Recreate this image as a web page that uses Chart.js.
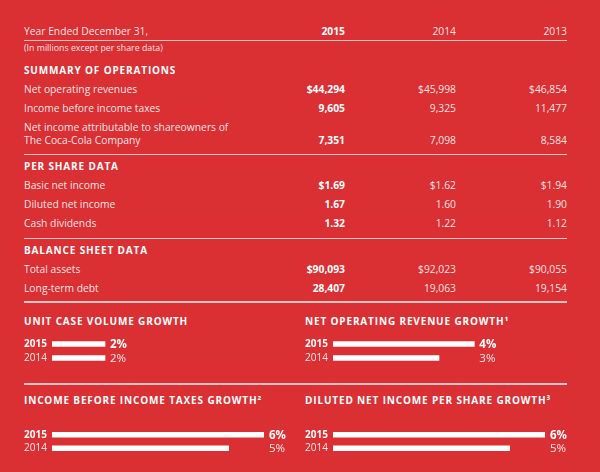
<!DOCTYPE html>
<html>
<head>
<meta charset="utf-8">
<script src="https://cdn.jsdelivr.net/npm/chart.js@4.4.1/dist/chart.umd.min.js"></script>
<style>
  html, body { margin: 0; padding: 0; }
  body {
    width: 600px; height: 472px; overflow: hidden; position: relative;
    background: #da2f33; color: rgba(255,255,255,0.9);
    font-family: "Open Sans", sans-serif;
  }
  .t { position: absolute; white-space: nowrap; height: 12px; line-height: 12px; font-size: 10.3px; }
  .b { font-weight: 700; color: #fff; }
  .h { font-weight: 700; color: #fff; font-size: 10px; letter-spacing: 0.85px; }
  .s { font-size: 8.8px; }
  .rule { position: absolute; left: 24px; width: 543px; height: 1.5px; background: rgba(255,255,255,0.72); }
  canvas { position: absolute; }
</style>
</head>
<body>
<canvas id="unitCase" width="270" height="40" style="left:24px;top:331px"></canvas>
<canvas id="netRev" width="270" height="40" style="left:305px;top:331px"></canvas>
<canvas id="incBefore" width="270" height="39" style="left:24px;top:422px"></canvas>
<canvas id="dilutedGr" width="270" height="39" style="left:305px;top:422px"></canvas>
<script>
// table data
const years = ['2015', '2014', '2013'];
const netRevenues = [44294, 45998, 46854];
const incomeBeforeTaxes = [9605, 9325, 11477];
const netIncome = [7351, 7098, 8584];
const basicEps = [1.69, 1.62, 1.94];
const dilutedEps = [1.67, 1.60, 1.90];
const cashDividends = [1.32, 1.22, 1.12];
const totalAssets = [90093, 92023, 90055];
const longTermDebt = [28407, 19063, 19154];

// growth charts
const growthYears = ['2015', '2014'];
const unitCaseGrowth = [2, 2];
const netRevenueGrowth = [4, 3];
const incomeBeforeTaxGrowth = [6, 5];
const dilutedEpsGrowth = [6, 5];

const FONT = '"Open Sans", sans-serif';
const colRight = [345, 456, 567];

function text(str, x, y, cls, alignRight) {
  const d = document.createElement('div');
  d.className = 't ' + (cls || '');
  d.textContent = str;
  d.style.top = (y - 6) + 'px';
  if (alignRight) d.style.right = (600 - x) + 'px';
  else d.style.left = x + 'px';
  document.body.appendChild(d);
}
function rule(y, h) {
  const d = document.createElement('div');
  d.className = 'rule';
  d.style.top = y + 'px';
  if (h) d.style.height = h + 'px';
  document.body.appendChild(d);
}
const money = v => '$' + v.toLocaleString('en-US');
const num = v => v.toLocaleString('en-US');
const usd2 = v => '$' + v.toFixed(2);
const dec2 = v => v.toFixed(2);

// header
text('Year Ended December 31,', 24, 31, '');
years.forEach((y, i) => text(y, colRight[i], 31, i === 0 ? 'b' : '', true));
rule(39.5);
text('(In millions except per share data)', 24, 48, 's');

const rows = [
  { head: 'SUMMARY OF OPERATIONS', y: 70 },
  { label: 'Net operating revenues', vals: netRevenues, fmt: money, y: 89 },
  { label: 'Income before income taxes', vals: incomeBeforeTaxes, fmt: num, y: 108 },
  { label: 'Net income attributable to shareowners of', y: 127 },
  { label: 'The Coca-Cola Company', vals: netIncome, fmt: num, y: 140 },
  { rule: 153.5 },
  { head: 'PER SHARE DATA', y: 166 },
  { label: 'Basic net income', vals: basicEps, fmt: usd2, y: 185 },
  { label: 'Diluted net income', vals: dilutedEps, fmt: dec2, y: 204 },
  { label: 'Cash dividends', vals: cashDividends, fmt: dec2, y: 223 },
  { rule: 237.5 },
  { head: 'BALANCE SHEET DATA', y: 250 },
  { label: 'Total assets', vals: totalAssets, fmt: money, y: 269 },
  { label: 'Long-term debt', vals: longTermDebt, fmt: num, y: 288 },
  { rule: 300.5, h: 2 }
];
rows.forEach(r => {
  if (r.rule) { rule(r.rule, r.h); return; }
  if (r.head) { text(r.head, 24, r.y, 'h'); return; }
  text(r.label, 24, r.y, '');
  if (r.vals) r.vals.forEach((v, i) => text(r.fmt(v), colRight[i], r.y, i === 0 ? 'b' : '', true));
});

text('UNIT CASE VOLUME GROWTH', 24, 321, 'h');
text('NET OPERATING REVENUE GROWTH\u00B9', 305, 321, 'h');
rule(383);
text('INCOME BEFORE INCOME TAXES GROWTH\u00B2', 24, 400, 'h');
text('DILUTED NET INCOME PER SHARE GROWTH\u00B3', 305, 400, 'h');

// draws the % value right of the longest bar
const valueLabels = {
  id: 'valueLabels',
  afterDatasetsDraw(chart) {
    const c = chart.ctx;
    const vals = chart.data.datasets[0].data;
    const x = chart.scales.x.getPixelForValue(Math.max(...vals)) + 5;
    chart.getDatasetMeta(0).data.forEach((bar, i) => {
      c.save();
      c.font = (i === 0 ? 'bold ' : '') + '11.5px ' + FONT;
      c.fillStyle = i === 0 ? '#fff' : 'rgba(255,255,255,0.9)';
      c.textAlign = 'left';
      c.textBaseline = 'middle';
      c.fillText(vals[i] + '%', x, bar.y + 0.5);
      c.restore();
    });
  }
};

function growthChart(id, values, max) {
  new Chart(document.getElementById(id), {
    type: 'bar',
    data: {
      labels: growthYears,
      datasets: [{ data: values, backgroundColor: '#fff', barThickness: 5, borderWidth: 0 }]
    },
    options: {
      indexAxis: 'y',
      responsive: false,
      animation: false,
      layout: { padding: { top: 0, bottom: 0, left: 0, right: 30 } },
      scales: {
        x: { display: false, min: 0, max: max },
        y: {
          grid: { display: false },
          border: { display: false },
          afterFit: s => { s.width = 28; },
          ticks: {
            crossAlign: 'far',
            padding: 0,
            color: c => c.index === 0 ? '#fff' : 'rgba(255,255,255,0.9)',
            font: c => ({ family: FONT, size: 10, weight: c.index === 0 ? 'bold' : 'normal' })
          }
        }
      },
      plugins: { legend: { display: false }, tooltip: { enabled: false } }
    },
    plugins: [valueLabels]
  });
}

growthChart('unitCase', unitCaseGrowth, 8);
growthChart('netRev', netRevenueGrowth, 6);
growthChart('incBefore', incomeBeforeTaxGrowth, 6);
growthChart('dilutedGr', dilutedEpsGrowth, 6);
</script>
</body>
</html>
